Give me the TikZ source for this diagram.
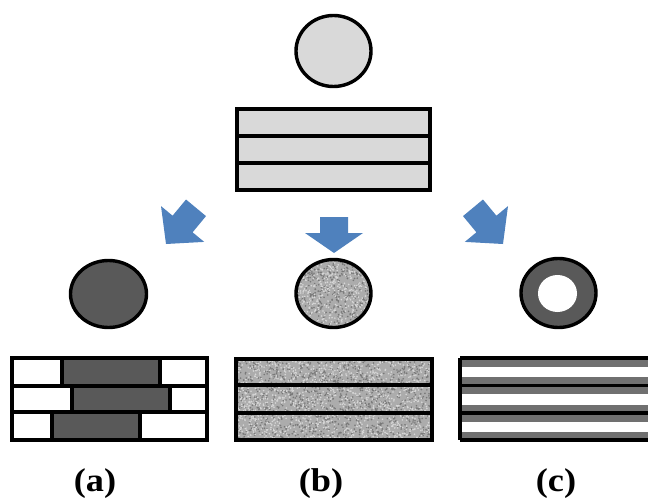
\documentclass[tikz,border=0pt]{standalone}
\usepackage{fontspec}
\setmainfont{Liberation Serif}
\definecolor{lightg}{RGB}{217,217,217}
\definecolor{darkg}{RGB}{89,89,89}
\definecolor{midg}{RGB}{112,112,112}
\definecolor{speck}{RGB}{172,172,172}
\definecolor{speckdark}{RGB}{120,120,120}
\definecolor{specklight}{RGB}{215,215,215}
\definecolor{arrowblue}{RGB}{79,129,189}
\newcommand\myspeckle[5]{%
  \foreach \i in {1,...,#5}{%
    \pgfmathsetmacro\sx{#1+rnd*#3}\pgfmathsetmacro\sy{#2+rnd*#4}%
    \fill[speckdark] (\sx,\sy) circle (0.9);}%
  \foreach \i in {1,...,#5}{%
    \pgfmathsetmacro\sx{#1+rnd*#3}\pgfmathsetmacro\sy{#2+rnd*#4}%
    \fill[specklight] (\sx,\sy) circle (0.9);}%
}
\tikzset{
  outline/.style={draw=black, line width=3.4pt},
  blockarrow/.style={fill=arrowblue, draw=none},
  lbl/.style={font=\bfseries\fontsize{33}{33}\selectfont, xscale=1.1, inner sep=0pt}
}
\begin{document}
\begin{tikzpicture}[x=1pt,y=-1pt]
\useasboundingbox (0,0) rectangle (649,503);
\pgfmathsetseed{11}
% ---------- top ----------
\draw[outline, fill=lightg] (333.5,51) ellipse (37.5 and 35.5);
\draw[outline, fill=lightg] (237,109) rectangle (430,190);
\draw[outline] (237,136) -- (430,136);
\draw[outline] (237,163) -- (430,163);
% ---------- arrows ----------
\fill[blockarrow] (166,244) -- (204.2,241.9) -- (192.6,232.3) -- (206,216.1) -- (186,199.5) -- (172.6,215.7) -- (161,206.1) -- cycle;
\fill[blockarrow] (503,244) -- (464.8,241.9) -- (476.4,232.3) -- (463,216.1) -- (483,199.5) -- (496.4,215.7) -- (508,206.1) -- cycle;
\fill[blockarrow] (320,217) -- (348,217) -- (348,233) -- (363,233) -- (334,253) -- (305,233) -- (320,233) -- cycle;
% ---------- (a) ----------
\draw[outline, fill=darkg] (108.5,294) ellipse (38 and 33.5);
\fill[white] (12,358) rectangle (207,440);
\fill[darkg] (62,358) rectangle (160,386);
\fill[darkg] (72,386) rectangle (170,412);
\fill[darkg] (52,412) rectangle (140,440);
\draw[outline] (62,358) -- (62,386) (160,358) -- (160,386);
\draw[outline] (72,386) -- (72,412) (170,386) -- (170,412);
\draw[outline] (52,412) -- (52,440) (140,412) -- (140,440);
\draw[outline] (12,386) -- (207,386) (12,412) -- (207,412);
\draw[outline] (12,358) rectangle (207,440);
% ---------- (b) ----------
\begin{scope}
  \clip (333.5,293.5) ellipse (38 and 34.5);
  \fill[speck] (290,255) rectangle (377,332);
  \myspeckle{295}{259}{77}{69}{450}
\end{scope}
\draw[outline] (333.5,293.5) ellipse (37.5 and 34);
\begin{scope}
  \clip (236,359) rectangle (432,440);
  \fill[speck] (236,359) rectangle (432,440);
  \myspeckle{236}{359}{196}{81}{1300}
\end{scope}
\draw[outline] (236,385) -- (432,385) (236,413) -- (432,413);
\draw[outline] (236,359) rectangle (432,440);
% ---------- (c) ----------
\draw[outline, fill=darkg] (558.5,293) ellipse (37.5 and 34.5);
\fill[white] (557.5,293.5) ellipse (19.5 and 18.5);
\fill[midg] (460,358) rectangle (648,440);
\fill[white] (460,366.5) rectangle (648,377);
\fill[white] (460,394) rectangle (648,404.5);
\fill[white] (460,421.5) rectangle (648,431.5);
\draw[outline] (460,358) -- (648,358) (460,385.5) -- (648,385.5) (460,413) -- (648,413) (460,440) -- (648,440);
\draw[outline] (460,358) -- (460,440);
% ---------- labels ----------
\node[lbl] (la) at (95,484) {(a)};
\node[lbl] (lb) at (321,484) {(b)};
\node[lbl] (lc) at (556,484) {(c)};
\end{tikzpicture}
\end{document}
